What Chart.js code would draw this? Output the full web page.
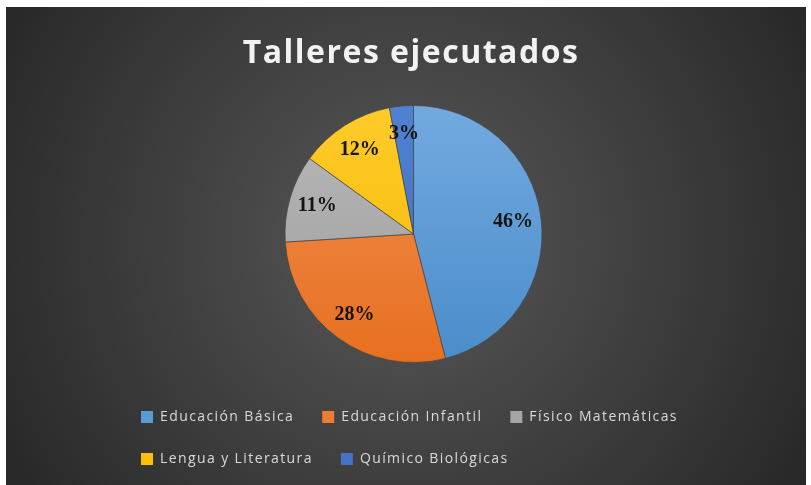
<!DOCTYPE html>
<html>
<head>
<meta charset="utf-8">
<script src="https://cdn.jsdelivr.net/npm/chart.js@4.4.1/dist/chart.umd.min.js"></script>
<style>
  html, body { margin: 0; padding: 0; background: #fff; }
  canvas { display: block; }
</style>
</head>
<body>
<canvas id="chart" width="811" height="485"></canvas>
<script>
const chartTitle = 'Talleres ejecutados';
const categories = ['Educación Básica', 'Educación Infantil', 'Físico Matemáticas', 'Lengua y Literatura', 'Químico Biológicas'];
const shares = [46, 28, 11, 12, 3];

const flatColors = ['#5b9bd5', '#ed7d31', '#a5a5a5', '#ffc000', '#4472c4'];
const topColors = ['#72aadf', '#f08f52', '#b9b9b9', '#ffcb2a', '#5182d2'];
const bottomColors = ['#4a8cca', '#e86f1f', '#9c9c9c', '#f5b800', '#3d68b8'];

const textSpacing = '1.4px';

// gradient fill per slice, top to bottom of the pie area
const sliceFill = (c) => {
    const area = c.chart.chartArea;
    if (!area) return flatColors[c.dataIndex];
    const g = c.chart.ctx.createLinearGradient(0, area.top, 0, area.bottom);
    g.addColorStop(0, topColors[c.dataIndex]);
    g.addColorStop(1, bottomColors[c.dataIndex]);
    return g;
};

const sheet = {
    id: 'sheet',
    beforeUpdate(chart) {
        chart.ctx.letterSpacing = textSpacing;
    },
    beforeDraw(chart) {
        const {ctx, width, height} = chart;
        ctx.save();
        ctx.fillStyle = '#ffffff';
        ctx.fillRect(0, 0, width, height);
        const g = ctx.createRadialGradient(406, 240, 0, 406, 240, 470);
        g.addColorStop(0, '#585858');
        g.addColorStop(1, '#272727');
        ctx.fillStyle = g;
        ctx.fillRect(6, 7, 800, height - 7);
        ctx.restore();
        ctx.letterSpacing = textSpacing;
    },
    afterDatasetsDraw(chart) {
        const {ctx} = chart;
        const meta = chart.getDatasetMeta(0);
        ctx.save();
        ctx.letterSpacing = '0px';
        ctx.font = 'bold 20px "Liberation Serif"';
        ctx.fillStyle = '#141414';
        ctx.textAlign = 'center';
        ctx.textBaseline = 'middle';
        meta.data.forEach((arc, i) => {
            const p = arc.getProps(['x', 'y', 'startAngle', 'endAngle', 'outerRadius'], true);
            const mid = (p.startAngle + p.endAngle) / 2;
            const r = p.outerRadius * 0.78;
            ctx.fillText(shares[i] + '%', p.x + Math.cos(mid) * r, p.y + Math.sin(mid) * r);
        });
        ctx.restore();
    },
    afterDraw(chart) {
        const {ctx} = chart;
        ctx.save();
        ctx.letterSpacing = '1.5px';
        ctx.font = 'bold 32px "Open Sans"';
        ctx.fillStyle = '#f2f2f2';
        ctx.textAlign = 'center';
        ctx.textBaseline = 'alphabetic';
        ctx.fillText(chartTitle, 411, 63);
        ctx.restore();
    }
};

new Chart(document.getElementById('chart'), {
    type: 'pie',
    data: {
        labels: categories,
        datasets: [{
            data: shares,
            backgroundColor: sliceFill,
            borderColor: 'rgba(70, 70, 70, 0.7)',
            borderWidth: 1
        }]
    },
    options: {
        responsive: false,
        animation: false,
        layout: {
            padding: {top: 105, bottom: 9, left: 113, right: 97}
        },
        plugins: {
            tooltip: {enabled: false},
            legend: {
                position: 'bottom',
                align: 'start',
                title: {display: true, text: '', font: {size: 19, lineHeight: 1}, padding: 0},
                labels: {
                    boxWidth: 12,
                    boxHeight: 12,
                    padding: 28,
                    color: '#d9d9d9',
                    font: {family: '"Open Sans"', size: 14},
                    generateLabels(chart) {
                        const items = Chart.overrides.pie.plugins.legend.labels.generateLabels(chart);
                        items.forEach((it, i) => {
                            it.fillStyle = flatColors[i];
                            it.strokeStyle = flatColors[i];
                            it.lineWidth = 0;
                        });
                        return items;
                    }
                }
            }
        }
    },
    plugins: [sheet]
});
</script>
</body>
</html>
